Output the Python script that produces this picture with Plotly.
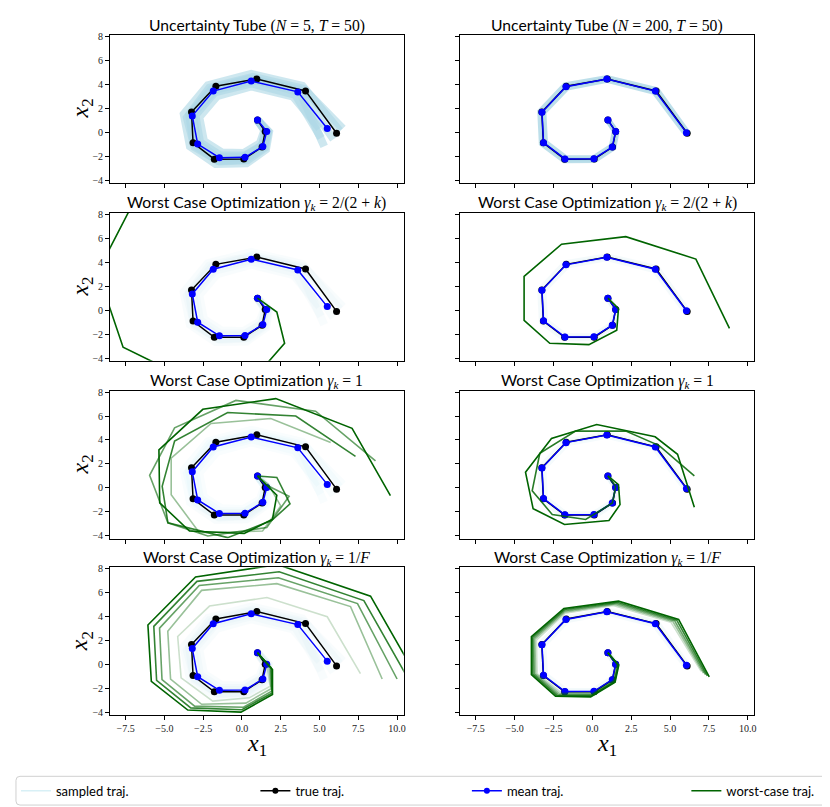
import plotly.graph_objects as go

W, H = 830, 807

# ---- values ----
true_x = [1.0, 1.5, 1.3, 0.12, -1.78, -3.15, -3.25, -1.68, 0.96, 4.1, 6.1]
true_y = [1.0, 0.05, -1.25, -2.25, -2.26, -0.9, 1.68, 3.82, 4.43, 3.43, -0.1]

mean5_x = [1.0, 1.6, 1.35, 0.2, -1.45, -2.85, -3.2, -1.85, 0.6, 3.6, 5.5]
mean5_y = [1.0, 0.05, -1.2, -2.1, -2.13, -1.0, 1.35, 3.42, 4.25, 3.35, 0.3]

mean200_x = [1.0, 1.5, 1.28, 0.1, -1.76, -3.14, -3.24, -1.7, 0.93, 4.05, 6.05]
mean200_y = [1.0, 0.05, -1.25, -2.22, -2.24, -0.88, 1.66, 3.78, 4.42, 3.42, -0.05]

# sampled trajectories, N = 5
samp5_x = [
    [1.0, 1.75, 1.55, 0.3, -1.7, -3.35, -3.75, -2.2, 0.6, 3.9, 6.3],
    [1.0, 1.45, 1.15, 0.1, -1.3, -2.45, -2.75, -1.6, 0.6, 3.3, 5.0],
    [1.0, 1.65, 1.4, 0.2, -1.55, -3.1, -3.4, -1.95, 0.55, 3.7, 5.9],
    [1.0, 1.5, 1.3, 0.2, -1.4, -2.7, -3.0, -1.75, 0.65, 3.45, 5.1],
    [1.0, 1.7, 1.5, 0.35, -1.45, -3.05, -3.55, -2.1, 0.7, 4.0, 6.5],
    [1.0, 1.55, 1.25, 0.05, -1.6, -2.9, -3.15, -1.7, 0.9, 3.75, 5.3],
]
samp5_y = [
    [1.0, 0.0, -1.45, -2.6, -2.65, -1.2, 1.5, 3.9, 4.85, 3.85, 0.1],
    [1.0, 0.15, -0.95, -1.75, -1.7, -0.75, 1.25, 3.0, 3.8, 2.95, 0.3],
    [1.0, -0.05, -1.3, -2.3, -2.4, -1.05, 1.4, 3.6, 4.45, 3.55, -0.6],
    [1.0, 0.1, -1.1, -1.95, -1.95, -0.85, 1.4, 3.3, 4.05, 3.1, -0.5],
    [1.0, 0.05, -1.3, -2.35, -2.45, -1.25, 1.2, 3.7, 4.6, 3.6, 0.3],
    [1.0, 0.0, -1.2, -2.1, -2.1, -0.9, 1.55, 3.55, 4.3, 3.3, -1.2],
]

# sampled trajectories, N = 200
samp200_x = [
    [1.0, 1.55, 1.35, 0.15, -1.8, -3.25, -3.35, -1.75, 0.95, 4.15, 6.2],
    [1.0, 1.45, 1.25, 0.08, -1.72, -3.05, -3.15, -1.62, 0.95, 4.0, 5.95],
]
samp200_y = [
    [1.0, 0.0, -1.3, -2.32, -2.35, -0.95, 1.7, 3.9, 4.5, 3.5, -0.2],
    [1.0, 0.1, -1.2, -2.18, -2.18, -0.85, 1.65, 3.72, 4.35, 3.35, 0.0],
]

# worst case, gamma_k = 2/(2+k)
wc_step_l_x = [1.0, 2.25, 2.75, 0.9, -3.2, -7.66, -9.3, -6.5, -1.0, 9.0, 14.0]
wc_step_l_y = [1.0, -0.15, -2.75, -5.5, -5.9, -3.09, 3.2, 10.2, 12.0, 13.0, 4.0]
wc_step_r_x = [1.0, 1.68, 1.57, -0.22, -2.74, -4.39, -4.39, -1.98, 2.15, 6.66, 8.82]
wc_step_r_y = [1.0, 0.13, -1.66, -2.87, -2.76, -0.84, 2.82, 5.5, 6.13, 4.26, -1.52]

# worst case, gamma_k = 1
wc_one_l_x = [
    [1.0, 1.7, 2.5, 1.33, -2.74, -4.56, -4.56, -1.99, 1.86, 5.72],
    [1.0, 1.6, 3.04, 1.6, -2.2, -4.77, -5.95, -4.34, -0.39, 4.75, 8.61],
    [1.0, 2.25, 3.1, 1.91, -0.92, -4.77, -5.14, -4.34, -0.92, 3.47, 7.32],
    [1.0, 2.25, 1.97, 0.15, -3.38, -5.3, -5.35, -2.52, 2.18, 7.1, 9.57],
]
wc_one_l_y = [
    [1.0, 0.3, -1.5, -3.59, -3.73, -0.56, 2.48, 5.38, 5.79, 3.8],
    [1.0, 0.22, -0.69, -3.3, -4.0, -2.9, 1.05, 5.02, 7.3, 6.4, 2.26],
    [1.0, 0.88, -1.33, -2.71, -4.14, -2.9, 0.14, 3.91, 6.29, 6.0, 2.63],
    [1.0, -0.6, -2.6, -3.8, -3.59, -1.24, 3.17, 6.56, 7.45, 4.97, -0.63],
]
wc_one_l_alpha = [0.4, 0.6, 0.8, 1.0]

wc_one_r_x = [
    [1.0, 1.5, 1.29, -0.43, -2.58, -3.87, -3.38, -1.08, 2.15, 4.3, 6.56],
    [1.0, 1.68, 1.78, 1.07, -1.79, -3.81, -4.3, -2.63, 0.28, 4.04, 5.48, 6.56],
]
wc_one_r_y = [
    [1.0, 0.14, -1.25, -2.63, -2.21, -0.23, 2.89, 4.74, 4.74, 3.53, 1.01],
    [1.0, 0.27, -1.39, -2.71, -3.04, -1.72, 1.32, 4.13, 5.29, 4.27, 2.81, -1.6],
]
wc_one_r_alpha = [0.85, 1.0]

# worst case, gamma_k = 1/F
wc_f_l_x = [
    [1.0, 1.6, 1.82, 0.47, -1.88, -3.92, -4.14, -2.09, 1.61, 5.5, 7.64],
    [1.0, 1.75, 1.88, 0.25, -2.6, -4.6, -4.78, -2.6, 2.25, 7.0, 9.04],
    [1.0, 1.85, 1.92, 0.1, -3.05, -5.15, -5.31, -2.75, 2.35, 7.45, 10.0],
    [1.0, 1.9, 1.95, 0.0, -3.3, -5.5, -5.68, -2.9, 2.4, 7.86, 10.8],
    [1.0, 1.97, 1.97, -0.06, -3.49, -5.84, -6.06, -2.99, 2.3, 8.29, 11.0],
]
wc_f_l_y = [
    [1.0, 0.05, -1.8, -2.76, -3.03, -1.1, 2.35, 4.89, 5.6, 4.0, -0.74],
    [1.0, -0.1, -2.0, -3.2, -3.3, -1.2, 2.8, 6.2, 6.76, 4.85, -1.19],
    [1.0, -0.2, -2.2, -3.55, -3.45, -1.25, 3.05, 6.6, 7.25, 5.1, -1.19],
    [1.0, -0.3, -2.35, -3.75, -3.6, -1.3, 3.2, 6.95, 7.75, 5.35, -1.37],
    [1.0, -0.41, -2.48, -3.95, -3.78, -1.38, 3.31, 7.31, 8.35, 5.72, -0.4],
]
wc_f_l_alpha = [0.2, 0.4, 0.6, 0.8, 1.0]

wc_f_r_x = [
    [1.0, 1.6, 1.35, 0.05, -2.0, -3.55, -3.6, -1.75, 1.35, 5.05, 7.0],
    [1.0, 1.62, 1.38, 0.01, -2.1, -3.65, -3.7, -1.77, 1.43, 5.18, 7.15],
    [1.0, 1.65, 1.41, -0.03, -2.19, -3.74, -3.79, -1.79, 1.52, 5.3, 7.28],
    [1.0, 1.67, 1.44, -0.07, -2.28, -3.83, -3.86, -1.81, 1.6, 5.43, 7.4],
    [1.0, 1.7, 1.46, -0.11, -2.37, -3.92, -3.92, -1.83, 1.68, 5.55, 7.52],
]
wc_f_r_y = [
    [1.0, 0.05, -1.3, -2.35, -2.35, -0.75, 2.05, 4.3, 4.95, 3.55, -0.55],
    [1.0, 0.03, -1.34, -2.43, -2.42, -0.77, 2.13, 4.4, 5.04, 3.6, -0.7],
    [1.0, 0.0, -1.38, -2.51, -2.49, -0.79, 2.2, 4.5, 5.12, 3.66, -0.82],
    [1.0, -0.03, -1.42, -2.6, -2.56, -0.81, 2.28, 4.6, 5.21, 3.72, -0.92],
    [1.0, -0.05, -1.46, -2.68, -2.62, -0.83, 2.35, 4.69, 5.3, 3.78, -1.02],
]
wc_f_r_alpha = [0.2, 0.4, 0.6, 0.8, 1.0]

titles = [
    ("Uncertainty Tube ", "(<i>N</i> = 5, <i>T</i> = 50)"),
    ("Uncertainty Tube ", "(<i>N</i> = 200, <i>T</i> = 50)"),
    ("Worst Case Optimization ", "<i>γ<sub>k</sub></i> = 2/(2 + <i>k</i>)"),
    ("Worst Case Optimization ", "<i>γ<sub>k</sub></i> = 2/(2 + <i>k</i>)"),
    ("Worst Case Optimization ", "<i>γ<sub>k</sub></i> = 1"),
    ("Worst Case Optimization ", "<i>γ<sub>k</sub></i> = 1"),
    ("Worst Case Optimization ", "<i>γ<sub>k</sub></i> = 1/<i>F</i>"),
    ("Worst Case Optimization ", "<i>γ<sub>k</sub></i> = 1/<i>F</i>"),
]

x_ticks = [-7.5, -5.0, -2.5, 0.0, 2.5, 5.0, 7.5, 10.0]
y_ticks = [-4, -2, 0, 2, 4, 6, 8]

# ---- layout geometry (pixels) ----
col_px = {1: (102.3, 396.7), 2: (453.3, 748.3)}
row_px = {1: (22.85, 172.2), 2: (202.5, 351.9), 3: (381.9, 531.2), 4: (560.2, 709.5)}
SANS = "Lato"
SERIF = "Liberation Serif"
WC_GREEN = "0,100,0"

fig = go.Figure()


def refs(r, c):
    i = (r - 1) * 2 + c
    s = "" if i == 1 else str(i)
    return "x" + s, "y" + s, "xaxis" + s, "yaxis" + s


def add_line(r, c, xs, ys, color, width, opacity=1.0, marker=False):
    xr, yr, _, _ = refs(r, c)
    fig.add_trace(go.Scatter(
        x=xs, y=ys, xaxis=xr, yaxis=yr,
        mode="lines+markers" if marker else "lines",
        line=dict(color=color, width=width), opacity=opacity,
        marker=dict(size=7, color=color), showlegend=False, hoverinfo="skip"))


for r in range(1, 5):
    for c in (1, 2):
        if c == 1:
            sx, sy, wd = samp5_x, samp5_y, 8
            op = 0.6 if r == 1 else 0.07
        else:
            sx, sy, wd = samp200_x, samp200_y, 6
            op = 0.8 if r == 1 else 0.12
        for xs, ys in zip(sx, sy):
            add_line(r, c, xs, ys, "lightblue", wd, op)
        add_line(r, c, true_x, true_y, "black", 1.5, marker=True)
        if c == 1:
            add_line(r, c, mean5_x, mean5_y, "blue", 1.5, marker=True)
        else:
            add_line(r, c, mean200_x, mean200_y, "blue", 1.5, marker=True)

add_line(2, 1, wc_step_l_x, wc_step_l_y, f"rgb({WC_GREEN})", 1.6)
add_line(2, 2, wc_step_r_x, wc_step_r_y, f"rgb({WC_GREEN})", 1.6)
for xs, ys, a in zip(wc_one_l_x, wc_one_l_y, wc_one_l_alpha):
    add_line(3, 1, xs, ys, f"rgba({WC_GREEN},{a})", 1.6)
for xs, ys, a in zip(wc_one_r_x, wc_one_r_y, wc_one_r_alpha):
    add_line(3, 2, xs, ys, f"rgba({WC_GREEN},{a})", 1.6)
for xs, ys, a in zip(wc_f_l_x, wc_f_l_y, wc_f_l_alpha):
    add_line(4, 1, xs, ys, f"rgba({WC_GREEN},{a})", 1.6)
for xs, ys, a in zip(wc_f_r_x, wc_f_r_y, wc_f_r_alpha):
    add_line(4, 2, xs, ys, f"rgba({WC_GREEN},{a})", 1.6)

# legend entries (dummy traces, one legend each so they can be placed freely)
leg_items = [
    ("sampled traj.", "#d8f0f6", False, "legend"),
    ("true traj.", "black", True, "legend2"),
    ("mean traj.", "blue", True, "legend3"),
    ("worst-case traj.", f"rgb({WC_GREEN})", False, "legend4"),
]
for name, color, mk, lg in leg_items:
    fig.add_trace(go.Scatter(
        x=[None], y=[None], name=name, legend=lg,
        mode="lines+markers" if mk else "lines",
        line=dict(color=color, width=1.5), marker=dict(size=6, color=color)))

layout = {}
annotations = []
for r in range(1, 5):
    for c in (1, 2):
        _, _, xa, ya = refs(r, c)
        x0, x1 = col_px[c]
        t0, t1 = row_px[r]
        layout[xa] = dict(
            domain=[x0 / W, x1 / W], range=[-8.5, 10.43], anchor=refs(r, c)[1],
            tickvals=x_ticks, tickformat=".1f", showticklabels=(r == 4),
            ticks="outside", ticklen=4, tickcolor="black", showgrid=False, zeroline=False,
            showline=True, mirror=True, linecolor="black", linewidth=1,
            tickfont=dict(family=SERIF, size=10, color="#222"))
        layout[ya] = dict(
            domain=[1 - t1 / H, 1 - t0 / H], range=[-4.22, 8.12], anchor=refs(r, c)[0],
            tickvals=y_ticks, showticklabels=(c == 1),
            ticks="outside", ticklen=4, tickcolor="black", showgrid=False, zeroline=False,
            showline=True, mirror=True, linecolor="black", linewidth=1,
            tickfont=dict(family=SERIF, size=10, color="#222"))
        sans_part, math_part = titles[(r - 1) * 2 + c - 1]
        annotations.append(dict(
            x=(x0 + x1) / 2 / W, y=1 - (t0 - 9.5) / H, xref="paper", yref="paper",
            xanchor="center", yanchor="middle", showarrow=False,
            text=f"{sans_part}<span style='font-family:{SERIF}'>{math_part}</span>",
            font=dict(family=SANS, size=15.7, color="black")))
    t0, t1 = row_px[r]
    annotations.append(dict(
        x=74 / W, y=1 - (t0 + t1) / 2 / H, xref="paper", yref="paper",
        xanchor="center", yanchor="middle", showarrow=False, textangle=-90,
        text="<i>x</i><sub>2</sub>", font=dict(family=SERIF, size=24, color="black")))

for c in (1, 2):
    x0, x1 = col_px[c]
    annotations.append(dict(
        x=(x0 + x1) / 2 / W, y=1 - 739 / H, xref="paper", yref="paper",
        xanchor="center", yanchor="middle", showarrow=False,
        text="<i>x</i><sub>1</sub>", font=dict(family=SERIF, size=24, color="black")))

# rounded legend frame
bx0, bx1, by0, by1 = 8 / W, 825 / W, 1 - 800 / H, 1 - 771 / H
rx, ry = 4 / W, 4 / H
frame = (f"M {bx0 + rx},{by0} L {bx1 - rx},{by0} Q {bx1},{by0} {bx1},{by0 + ry} "
         f"L {bx1},{by1 - ry} Q {bx1},{by1} {bx1 - rx},{by1} L {bx0 + rx},{by1} "
         f"Q {bx0},{by1} {bx0},{by1 - ry} L {bx0},{by0 + ry} Q {bx0},{by0} {bx0 + rx},{by0} Z")

leg_x = {"legend": 8, "legend2": 248, "legend3": 460, "legend4": 680}
for lg, px in leg_x.items():
    layout[lg] = dict(
        x=px / W, y=1 - 785.5 / H, xanchor="left", yanchor="middle",
        orientation="h", bgcolor="rgba(0,0,0,0)", borderwidth=0,
        font=dict(family=SANS, size=13, color="black"))

fig.update_layout(
    width=W, height=H, margin=dict(l=0, r=0, t=0, b=0),
    paper_bgcolor="white", plot_bgcolor="white",
    annotations=annotations,
    shapes=[dict(type="path", path=frame, xref="paper", yref="paper",
                 line=dict(color="#d0d0d0", width=1), fillcolor="rgba(255,255,255,0.8)",
                 layer="below")],
    **layout)

fig.write_html("out.html")
